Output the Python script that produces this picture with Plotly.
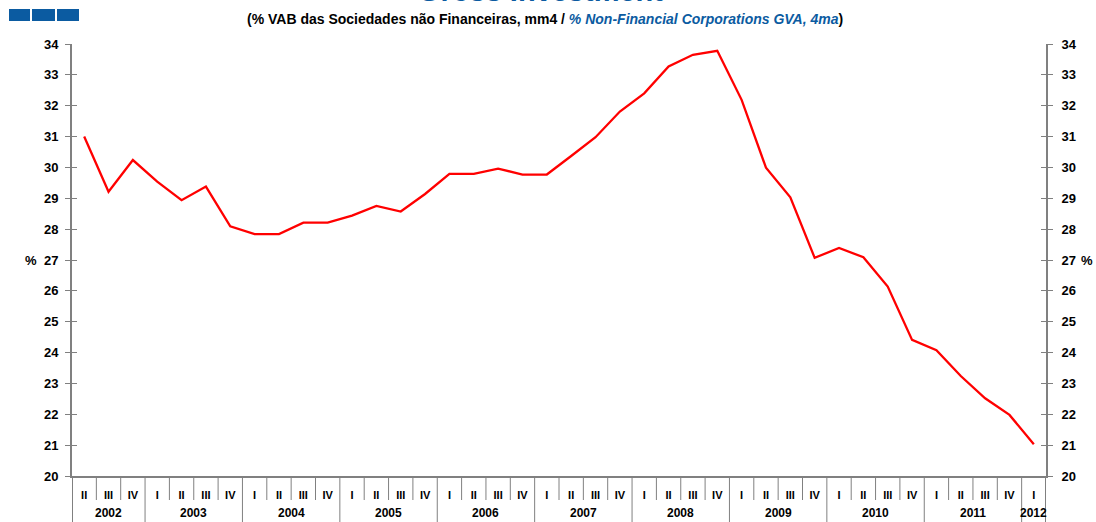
import plotly.graph_objects as go

years = ["2002"] * 3 + [str(y) for y in range(2003, 2012) for _ in range(4)] + ["2012"]
quarters = ["II", "III", "IV"] + ["I", "II", "III", "IV"] * 9 + ["I"]
values = [31.0, 29.21, 30.24,
          29.54, 28.94, 29.38, 28.09,
          27.84, 27.84, 28.21, 28.21,
          28.44, 28.75, 28.57, 29.14,
          29.79, 29.79, 29.96, 29.77,
          29.77, 30.37, 30.98, 31.81,
          32.40, 33.27, 33.65, 33.78,
          32.19, 29.99, 29.03, 27.07,
          27.39, 27.09, 26.14, 24.41,
          24.08, 23.24, 22.52, 21.98,
          21.03]
yticks = list(range(20, 35))

W, H = 1096, 522
L, R, T, B = 72, 50, 44, 46
PW, PH = W - L - R, H - T - B

def px(x):
    return (x - L) / PW

def py(y):
    return (H - B - y) / PH

axis_color = "#808080"
FAM = "Liberation Sans, Arial, sans-serif"
font = dict(family=FAM, size=13, color="black")

idx = list(range(len(values)))

fig = go.Figure()
fig.add_trace(go.Scatter(x=idx, y=values, mode="lines",
                         line=dict(color="#ff0000", width=2.3), showlegend=False))
fig.add_trace(go.Scatter(x=idx, y=values, mode="lines", yaxis="y2",
                         line=dict(color="rgba(0,0,0,0)", width=0), showlegend=False,
                         hoverinfo="skip"))

shapes = []
for x0, x1 in [(9, 30), (32, 55), (57, 79)]:
    shapes.append(dict(type="rect", xref="paper", yref="paper",
                       x0=px(x0), x1=px(x1), y0=py(21), y1=py(9),
                       fillcolor="#0b5ba1", line=dict(width=0)))

# quarter and year dividers below the axis
year_bounds = [0]
for i in range(1, len(years)):
    if years[i] != years[i - 1]:
        year_bounds.append(i)
year_bounds.append(len(years))
for i in range(1, len(quarters)):
    if i in year_bounds:
        continue
    shapes.append(dict(type="line", xref="x", yref="paper", x0=i - 0.5, x1=i - 0.5,
                       y0=0, y1=py(500), line=dict(color=axis_color, width=1)))
for b in year_bounds:
    shapes.append(dict(type="line", xref="x", yref="paper", x0=b - 0.5, x1=b - 0.5,
                       y0=0, y1=py(522), line=dict(color=axis_color, width=1 if 0 < b < len(years) else 2)))

annotations = [
    dict(text="<b>Gross Investment</b>", xref="paper", yref="paper",
         x=px(540), y=py(8.5), xanchor="center", yanchor="bottom", showarrow=False,
         font=dict(family=FAM, size=29, color="#0b5ba1")),
    dict(text="<b>(% VAB das Sociedades não Financeiras, mm4 / "
              "<i><span style='color:#0b5ba1'>% Non-Financial Corporations GVA, 4ma</span></i>)</b>",
         xref="paper", yref="paper", x=px(545), y=py(19), xanchor="center", yanchor="middle",
         showarrow=False, font=dict(family=FAM, size=14, color="black")),
    dict(text="<b>%</b>", xref="paper", yref="y", x=px(31), y=27, xanchor="center",
         yanchor="middle", showarrow=False, font=font),
    dict(text="<b>%</b>", xref="paper", yref="y", x=px(1087), y=27, xanchor="center",
         yanchor="middle", showarrow=False, font=font),
]
for k in range(len(year_bounds) - 1):
    a, b = year_bounds[k], year_bounds[k + 1]
    annotations.append(dict(text="<b>%s</b>" % years[a], xref="x", yref="paper",
                            x=(a + b - 1) / 2, y=py(513), xanchor="center", yanchor="middle",
                            showarrow=False, font=dict(family=FAM, size=12, color="black")))

fig.update_layout(
    width=W, height=H,
    margin=dict(l=L, r=R, t=T, b=B, autoexpand=False),
    paper_bgcolor="white", plot_bgcolor="white",
    font=font,
    showlegend=False,
    hovermode=False,
    shapes=shapes,
    annotations=annotations,
    xaxis=dict(range=[-0.5, len(values) - 0.5], tickvals=idx, ticktext=quarters,
               showgrid=False, showline=True, linecolor=axis_color, linewidth=2,
               ticks="", ticklabelstandoff=8, showspikes=False,
               tickfont=dict(family=FAM, size=11, color="black", weight="bold"),
               automargin=False, zeroline=False),
    yaxis=dict(range=[20, 34], tickvals=yticks, showgrid=False, zeroline=False,
               showline=True, linecolor=axis_color, linewidth=2,
               ticks="outside", ticklen=5, tickcolor=axis_color, tickwidth=1,
               mirror="ticks",
               tickfont=dict(family=FAM, size=13, color="black", weight="bold"),
               ticklabelstandoff=4, automargin=False),
    yaxis2=dict(range=[20, 34], tickvals=yticks, overlaying="y", side="right",
                showgrid=False, zeroline=False, showline=True, linecolor=axis_color, linewidth=2,
                ticks="inside", ticklen=5, tickcolor=axis_color, tickwidth=1, mirror="ticks",
                tickfont=dict(family=FAM, size=13, color="black", weight="bold"),
                ticklabelstandoff=11, automargin=False),
)

fig.write_html("out.html", config={"displayModeBar": False, "staticPlot": True},
               post_script="document.body.style.margin='0';document.body.style.overflow='hidden';")
